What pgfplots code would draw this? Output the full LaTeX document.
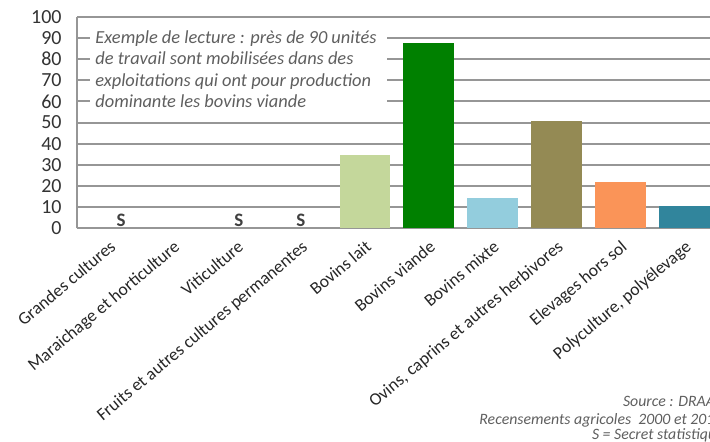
\documentclass[border=0pt]{standalone}
\usepackage{fontspec}
\setmainfont{Carlito}
\usepackage{pgfplots}
\pgfplotsset{compat=1.18}
\definecolor{gridc}{RGB}{150,150,150}
\definecolor{txtc}{RGB}{64,64,64}
\definecolor{notec}{RGB}{95,95,95}
\definecolor{clait}{RGB}{196,215,155}
\definecolor{cviande}{RGB}{0,128,0}
\definecolor{cmixte}{RGB}{147,205,221}
\definecolor{covins}{RGB}{148,138,84}
\definecolor{celev}{RGB}{250,148,88}
\definecolor{cpoly}{RGB}{49,133,156}
\begin{document}
\begin{tikzpicture}
\useasboundingbox (0pt,0pt) rectangle (355pt,220.5pt);
\clip (0pt,0pt) rectangle (355pt,220.5pt);
\begin{axis}[
  at={(38.5pt,106.35pt)}, anchor=south west,
  scale only axis, width=316.5pt, height=105.8pt,
  xmin=-0.5, xmax=9.4, ymin=0, ymax=100,
  ytick={0,10,...,100},
  xtick={0,...,9},
  xticklabels={Grandes cultures, Maraichage et horticulture, Viticulture, Fruits et autres cultures permanentes, Bovins lait, Bovins viande, Bovins mixte, {Ovins, caprins et autres herbivores}, Elevages hors sol, {Polyculture, polyélevage}},
  ymajorgrids, grid style={draw=gridc, line width=1pt},
  axis x line*=bottom, axis y line*=left,
  axis line style={draw=gridc, line width=1pt, -},
  major tick length=3pt,
  ytick style={draw=gridc, line width=1pt},
  xtick style={draw=none},
  yticklabel style={font=\fontsize{10}{11}\selectfont, text=black!80, inner sep=0pt, anchor=east, xshift=-7.5pt},
  xticklabel style={font=\fontsize{8.8}{10}\selectfont, text=black!85, inner sep=0pt, anchor=north east, rotate=40, yshift=-4pt, xshift=-3.5pt},
  /pgf/number format/assume math mode=true,
  clip=true,
]
\addplot[ybar, bar shift=0pt, bar width=25.2pt, fill=clait, draw=none] coordinates {(4,34.6)};
\addplot[ybar, bar shift=0pt, bar width=25.2pt, fill=cviande, draw=none] coordinates {(5,87.5)};
\addplot[ybar, bar shift=0pt, bar width=25.2pt, fill=cmixte, draw=none] coordinates {(6,14.1)};
\addplot[ybar, bar shift=0pt, bar width=25.2pt, fill=covins, draw=none] coordinates {(7,50.7)};
\addplot[ybar, bar shift=0pt, bar width=25.2pt, fill=celev, draw=none] coordinates {(8,21.7)};
\addplot[ybar, bar shift=0pt, bar width=25.2pt, fill=cpoly, draw=none] coordinates {(9,10.4)};
\node[font=\fontsize{9.5}{10}\selectfont\bfseries, text=txtc] at (axis cs:0.19,3.6) {S};
\node[font=\fontsize{9.5}{10}\selectfont\bfseries, text=txtc] at (axis cs:2.03,3.6) {S};
\node[font=\fontsize{9.5}{10}\selectfont\bfseries, text=txtc] at (axis cs:3.0,3.6) {S};
\end{axis}
\fill[white] (45pt,163pt) rectangle (193.5pt,209.5pt);
\begin{scope}[every node/.style={anchor=base west, inner sep=0pt, text=notec, font=\fontsize{9.2}{10}\selectfont\itshape}]
\node at (47.5pt,198.7pt) {Exemple de lecture : près de 90 unités};
\node at (47.5pt,188.1pt) {de travail sont mobilisées dans des};
\node at (47.5pt,177.5pt) {exploitations qui ont pour production};
\node at (47.5pt,166.9pt) {dominante les bovins viande};
\end{scope}
\begin{scope}[every node/.style={anchor=base west, inner sep=0pt, text=notec, font=\fontsize{7.9}{9}\selectfont\itshape}]
\node at (311.3pt,17.5pt) {Source : DRAAF};
\node at (239.5pt,8.4pt) {Recensements agricoles\ \ 2000 et 2010};
\node at (295.8pt,0.6pt) {S = Secret statistique};
\end{scope}
\end{tikzpicture}
\end{document}
